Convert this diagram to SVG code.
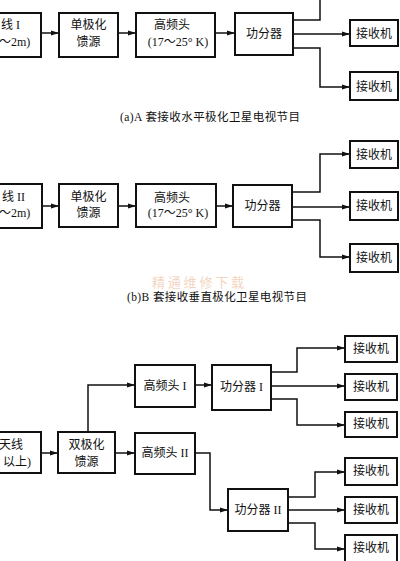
<svg xmlns="http://www.w3.org/2000/svg" width="400" height="561" viewBox="0 0 400 561">
<style>
.box{fill:#fff;stroke:#111;stroke-width:2}
.t{font-family:"Liberation Serif","Noto Sans CJK SC",serif;font-size:12px;fill:#111;text-anchor:middle;dominant-baseline:central}
.tl{font-family:"Liberation Serif","Noto Sans CJK SC",serif;font-size:12px;fill:#111;dominant-baseline:central}
.cap{font-family:"Liberation Serif","Noto Sans CJK SC",serif;font-size:11.5px;fill:#111;dominant-baseline:central}
.wm{font-family:"Noto Sans CJK SC",sans-serif;font-size:13px;fill:#e9b48c;opacity:0.55;dominant-baseline:central}
.c{fill:none;stroke:#111;stroke-width:1.5}
.a{marker-end:url(#ah)}
</style>
<defs>
<marker id="ah" viewBox="0 0 8 6" refX="8" refY="3" markerWidth="8" markerHeight="6" markerUnits="userSpaceOnUse" orient="auto">
<path d="M0,0.5 L8,3 L0,5.5 Z" fill="#111"/>
</marker>
</defs>
<rect width="400" height="561" fill="#fff"/>

<g id="connectors">
<path class="c a" d="M41,33 H59"/>
<path class="c a" d="M118,33 H136"/>
<path class="c a" d="M215,33 H235"/>
<path class="c" d="M293,20 H320 V0"/>
<path class="c a" d="M293,34 H350"/>
<path class="c a" d="M293,48 H320 V87 H350"/>
<path class="c a" d="M42,206 H59"/>
<path class="c a" d="M118,206 H136"/>
<path class="c a" d="M216,206 H233"/>
<path class="c a" d="M292,192 H320 V154 H350"/>
<path class="c a" d="M292,207 H350"/>
<path class="c a" d="M292,220 H320 V257 H350"/>
<path class="c a" d="M41,453 H58"/>
<path class="c a" d="M115,453 H135"/>
<path class="c a" d="M88,432 V385 H135"/>
<path class="c a" d="M195,385 H212"/>
<path class="c a" d="M195,453 H210 V510 H228"/>
<path class="c a" d="M271,372 H297 V348 H345"/>
<path class="c a" d="M271,386 H345"/>
<path class="c a" d="M271,399 H297 V425 H345"/>
<path class="c a" d="M288,497 H315 V472 H345"/>
<path class="c a" d="M288,510 H345"/>
<path class="c a" d="M288,523 H315 V549 H345"/>
</g>

<g id="ant_a"><rect class="box" x="-10" y="13" width="51" height="44"/><text class="tl" x="1" y="25">线 I</text><text class="tl" x="-1" y="42">～2m)</text></g>
<g id="feed_a"><rect class="box" x="59" y="13" width="59" height="44"/><text class="t" x="88.5" y="25">单极化</text><text class="t" x="88.5" y="42">馈源</text></g>
<g id="lnb_a"><rect class="box" x="136" y="13" width="79" height="44"/><text class="t" x="172" y="25">高频头</text><text class="t" x="178" y="42">(17～25° K)</text></g>
<g id="div_a"><rect class="box" x="235" y="13" width="58" height="42"/><text class="t" x="264" y="34">功分器</text></g>
<g id="rx_a1"><rect class="box" x="350" y="20" width="48" height="26"/><text class="t" x="374" y="34">接收机</text></g>
<g id="rx_a2"><rect class="box" x="350" y="72" width="48" height="28"/><text class="t" x="374" y="87">接收机</text></g>
<text class="cap" x="120" y="117" textLength="180" lengthAdjust="spacing">(a)A 套接收水平极化卫星电视节目</text>

<g id="ant_b"><rect class="box" x="-10" y="184" width="52" height="44"/><text class="tl" x="2" y="197">线 II</text><text class="tl" x="-1" y="213">～2m)</text></g>
<g id="feed_b"><rect class="box" x="59" y="184" width="59" height="43"/><text class="t" x="88.5" y="197">单极化</text><text class="t" x="88.5" y="213">馈源</text></g>
<g id="lnb_b"><rect class="box" x="136" y="184" width="80" height="43"/><text class="t" x="172" y="198">高频头</text><text class="t" x="178" y="213">(17～25° K)</text></g>
<g id="div_b"><rect class="box" x="233" y="185" width="59" height="42"/><text class="t" x="262.5" y="206">功分器</text></g>
<g id="rx_b1"><rect class="box" x="350" y="141" width="48" height="27"/><text class="t" x="374" y="155">接收机</text></g>
<g id="rx_b2"><rect class="box" x="350" y="192" width="48" height="28"/><text class="t" x="374" y="206">接收机</text></g>
<g id="rx_b3"><rect class="box" x="350" y="244" width="48" height="28"/><text class="t" x="374" y="258">接收机</text></g>
<text class="wm" x="152" y="281" textLength="92" lengthAdjust="spacing">精通维修下载</text>
<text class="cap" x="127" y="297" textLength="180" lengthAdjust="spacing">(b)B 套接收垂直极化卫星电视节目</text>

<g id="lnb_c1"><rect class="box" x="135" y="365" width="60" height="42"/><text class="t" x="165" y="386">高频头 I</text></g>
<g id="div_c1"><rect class="box" x="212" y="365" width="59" height="45"/><text class="t" x="241.5" y="387">功分器 I</text></g>
<g id="rx_c1"><rect class="box" x="345" y="336" width="52" height="26"/><text class="t" x="371" y="349">接收机</text></g>
<g id="rx_c2"><rect class="box" x="345" y="374" width="52" height="26"/><text class="t" x="371" y="387">接收机</text></g>
<g id="rx_c3"><rect class="box" x="345" y="412" width="52" height="25"/><text class="t" x="371" y="424">接收机</text></g>
<g id="ant_c"><rect class="box" x="-10" y="432" width="51" height="41"/><text class="tl" x="-1" y="445">天线</text><text class="tl" x="3" y="462">以上)</text></g>
<g id="feed_c"><rect class="box" x="58" y="432" width="57" height="41"/><text class="t" x="86.5" y="445">双极化</text><text class="t" x="86.5" y="462">馈源</text></g>
<g id="lnb_c2"><rect class="box" x="135" y="433" width="60" height="41"/><text class="t" x="165" y="453">高频头 II</text></g>
<g id="div_c2"><rect class="box" x="228" y="489" width="60" height="42"/><text class="t" x="258" y="510">功分器 II</text></g>
<g id="rx_c4"><rect class="box" x="345" y="458" width="52" height="27"/><text class="t" x="371" y="471">接收机</text></g>
<g id="rx_c5"><rect class="box" x="345" y="497" width="52" height="26"/><text class="t" x="371" y="510">接收机</text></g>
<g id="rx_c6"><rect class="box" x="345" y="535" width="52" height="30"/><text class="t" x="371" y="548">接收机</text></g>
</svg>
